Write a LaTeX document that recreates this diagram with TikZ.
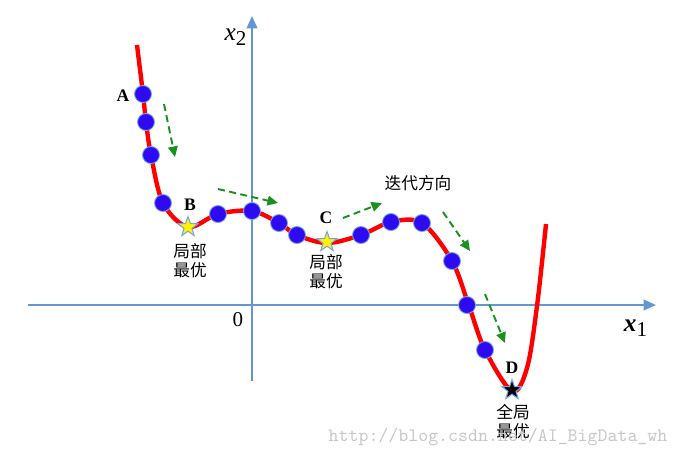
\documentclass[tikz,border=0pt]{standalone}
\usepackage{fontspec}
\setmainfont{Liberation Serif}
\newfontfamily\cjk{Noto Sans CJK SC}
\usetikzlibrary{shapes.geometric,arrows.meta}

\definecolor{axisblue}{RGB}{100,150,210}
\definecolor{dotblue}{RGB}{45,10,240}
\definecolor{rimblue}{RGB}{120,165,225}
\definecolor{walkgreen}{RGB}{25,145,30}

\begin{document}
\begin{tikzpicture}[
    x=0.02cm, y=-0.02cm,
    axis/.style={draw=axisblue, line width=1.1pt,
        -{Triangle[length=7pt,width=6pt]}},
    curve/.style={draw=red, line width=2.5pt},
    dot/.style={circle, fill=dotblue, draw=rimblue, line width=0.5pt,
        minimum size=0.34cm, inner sep=0pt},
    optstar/.style={star, star points=5, star point ratio=2.5,
        fill=#1, draw=rimblue, line width=0.6pt,
        minimum size=0.42cm, inner sep=0pt},
    ptlabel/.style={font=\bfseries\normalsize},
    cnlabel/.style={font=\cjk\fontsize{9.5}{10.8}\selectfont, align=center},
    walk/.style={draw=walkgreen, dash pattern=on 4pt off 2.5pt, line width=1.1pt,
        -{Triangle[length=6pt,width=5.5pt]}},
]
    \useasboundingbox (0,0) rectangle (679,458);

    % ~~~ axes ~~~~~~~~~~~~~~~~~~~~~~~~~~~~~~~~~~~~
    \coordinate (xl) at (28,305);
    \coordinate (xr) at (656,305);
    \coordinate (yb) at (252,381);
    \coordinate (yt) at (252,16);
    \draw[axis] (xl) -- (xr);
    \draw[axis] (yb) -- (yt);
    \node (x1) at (636,328) {\Large\textbf{\textit{x}}\textsubscript{\large 1}};
    \node (x2) at (236,37) {\Large\textit{x}\textsubscript{\large 2}};
    \node (o)  at (238,320) {\large 0};

    % ~~~ the objective curve ~~~~~~~~~~~~~~~~~~~~~~
    \draw[curve] plot[smooth, tension=0.55] coordinates {
        (137,45) (143,94) (146,122) (151,155) (163,203) (188,227)
        (218,214) (252,211) (279,223) (297,235) (327,243) (361,235)
        (391,222) (422,223) (452,261) (469,306) (485,350) (512,391)
        (527,368) (537,306) (546,224)};

    % ~~~ iterates along the curve ~~~~~~~~~~~~~~~~~
    \foreach \i/\x/\y in {1/143/94, 2/146/122, 3/151/155, 4/163/203,
                          5/218/214, 6/252/211, 7/279/223, 8/297/235,
                          9/361/235, 10/391/222, 11/422/223, 12/452/261,
                          13/467/305, 14/485/350}
        \node[dot] (d\i) at (\x,\y) {};

    % ~~~ optima ~~~~~~~~~~~~~~~~~~~~~~~~~~~~~~~~~~~
    \node[optstar=yellow] (B) at (188,227) {};
    \node[optstar=yellow] (C) at (327,242) {};
    \node[optstar=black]  (D) at (512,390) {};

    \node[ptlabel] (lA) at (123,96)  {A};
    \node[ptlabel] (lB) at (190,205) {B};
    \node[ptlabel] (lC) at (326,218) {C};
    \node[ptlabel] (lD) at (512,368) {D};

    \node[cnlabel] (nB) at (190,261) {局部\\最优};
    \node[cnlabel] (nC) at (326,272) {局部\\最优};
    \node[cnlabel] (nD) at (513,422) {全局\\最优};
    \node[cnlabel] (dir) at (418,183) {迭代方向};

    % ~~~ direction of the iterations ~~~~~~~~~~~~~~
    \foreach \i/\sx/\sy/\ex/\ey in {1/164/104/175/157, 2/218/189/278/203,
                                    3/343/218/382/203, 4/443/212/470/251,
                                    5/485/294/505/343} {
        \coordinate (s\i) at (\sx,\sy);
        \coordinate (e\i) at (\ex,\ey);
        \draw[walk] (s\i) -- (e\i);
    }

    % ~~~ watermark ~~~~~~~~~~~~~~~~~~~~~~~~~~~~~~~~
    \node[text=black!22, font=\fontspec{Latin Modern Mono}\fontsize{10.8}{12}\selectfont]
        (wm) at (498,437) {http://blog.csdn.net/AI\_BigData\_wh};
\end{tikzpicture}
\end{document}
